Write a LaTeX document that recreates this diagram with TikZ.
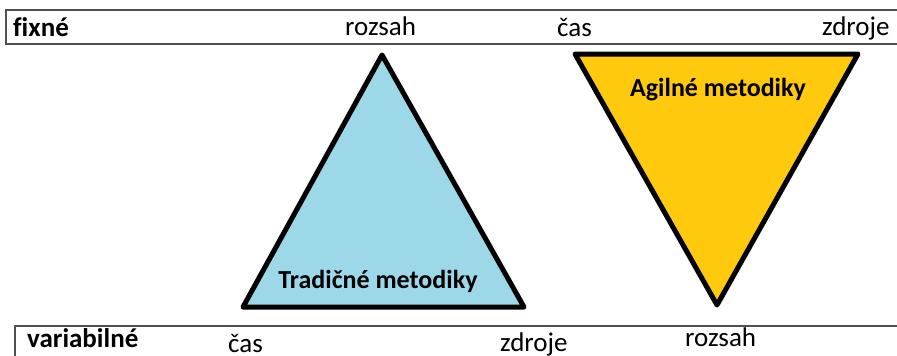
\documentclass[tikz,border=0pt]{standalone}
\usepackage{fontspec}
\setmainfont{Carlito}[Ligatures=NoCommon]
\definecolor{tradblue}{HTML}{9DD8E9}
\definecolor{agileyellow}{HTML}{FFC90E}
\definecolor{framegray}{HTML}{505050}
\begin{document}
\begin{tikzpicture}[x=1pt,y=-1pt,
  frame/.style={draw=framegray,line width=1.5pt},
  tri/.style={draw=black,line width=5pt,line join=round},
  lbl/.style={inner sep=0pt,anchor=base west,font=\fontsize{27}{30}\selectfont},
  boldlbl/.style={lbl,font=\fontsize{27}{30}\selectfont\bfseries},
  title/.style={inner sep=0pt,anchor=base,font=\fontsize{26}{30}\selectfont\bfseries}]
\useasboundingbox (0,0) rectangle (897,356);

% row of fixed constraints
\draw[frame] (900,10) -- (6,10) -- (6,44) -- (900,44);
\node[boldlbl] (fix) at (13,36) {fixné};
\node[lbl] (trozsah) at (345,35) {rozsah};
\node[lbl] (tcas) at (557,36) {čas};
\node[lbl] (tzdroje) at (822,35) {zdroje};

% row of variable constraints
\draw[frame] (15,360) -- (15,326) -- (900,326);
\node[boldlbl] (var) at (27,347) {variabilné};
\node[lbl] (bcas) at (228,352) {čas};
\node[lbl] (bzdroje) at (500,351) {zdroje};
\node[lbl] (brozsah) at (685,346) {rozsah};

% traditional methods: fixed scope
\coordinate (ta) at (382,55);
\coordinate (tl) at (243,307);
\coordinate (tr) at (524,307);
\filldraw[tri,fill=tradblue] (ta) -- (tl) -- (tr) -- cycle;
\node[title] (trad) at (378,288) {Tradičné metodiky};

% agile methods: fixed time and resources
\coordinate (al) at (575,54);
\coordinate (ar) at (858,54);
\coordinate (ab) at (717,305);
\filldraw[tri,fill=agileyellow] (al) -- (ar) -- (ab) -- cycle;
\node[title] (agile) at (718,96) {Agilné metodiky};
\end{tikzpicture}
\end{document}
